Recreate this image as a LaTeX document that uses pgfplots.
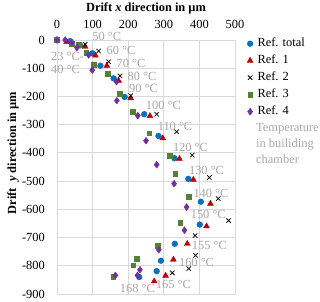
\documentclass[border=0pt]{standalone}
\usepackage{fontspec}
\setmainfont{Liberation Serif}
\usepackage{pgfplots}
\pgfplotsset{compat=1.18}
\definecolor{cTot}{HTML}{0070C0}
\definecolor{cRa}{HTML}{C00000}
\definecolor{cRc}{HTML}{548235}
\definecolor{cRd}{HTML}{7030A0}
\definecolor{cLab}{HTML}{A6A6A6}
\definecolor{cGrid}{HTML}{D9D9D9}
\tikzset{lab/.style={text=cLab, inner sep=0pt}}
\begin{document}
\begin{tikzpicture}[font=\fontsize{12.4bp}{15bp}\selectfont]
\path[use as bounding box] (0,0) rectangle (320bp,302bp);
\begin{axis}[
  at={(57bp,8bp)}, anchor=south west,
  scale only axis, width=178bp, height=254bp,
  xmin=0, xmax=500, ymin=-900, ymax=0,
  xtick={0,100,200,300,400,500},
  xticklabels={0,100,200,300,400,500},
  ytick={-900,-800,-700,-600,-500,-400,-300,-200,-100,0},
  yticklabels={-900,-800,-700,-600,-500,-400,-300,-200,-100,0},
  xticklabel pos=upper,
  grid=major, major grid style={cGrid, line width=0.8bp},
  axis line style={cGrid, line width=0.8bp},
  tick style={draw=none},
  clip=false,
  xticklabel style={anchor=south, inner sep=0pt, yshift=11.5bp},
  yticklabel style={anchor=east, inner sep=0pt, xshift=-12bp},
  xlabel={\textbf{Drift \textit{x} direction in µm}},
  xlabel style={at={(axis description cs:0.5,1.1134)}, anchor=base, inner sep=0pt},
  ylabel={\textbf{Drift \ \textit{y} direction in µm}},
  ylabel style={at={(axis description cs:-0.229,0.555)}, anchor=base, inner sep=0pt},
  legend style={at={(axis description cs:1.0674,1.0100)}, anchor=north west,
    draw=none, fill=none, inner sep=0pt, row sep=5bp, column sep=4.5bp,
    nodes={inner sep=0pt, text height=9bp, text depth=3bp}},
  legend cell align=left,
  legend image code/.code={\draw[#1] plot coordinates {(0bp,0bp)};},
]
\addplot[only marks, mark=*, mark size=2.9bp, mark options={fill=cTot, draw=cTot}] coordinates {
(0,0) (37,-4) (65,-19) (99,-47) (122,-91) (159,-136) (190,-202) (245,-263) (285,-340) (330,-419) (369,-492) (404,-573) (401,-654) (331,-722) (292,-782) (280,-819) (231,-840)};
\addlegendentry{Ref. total}
\addplot[only marks, mark=triangle*, mark size=3.4bp, mark options={fill=cRa, draw=cRa}] coordinates {
(0,0) (27,-7) (79,-24) (108,-55) (140,-91) (173,-144) (207,-206) (261,-269) (297,-348) (344,-421) (383,-495) (431,-580) (420,-660) (366,-722) (327,-778) (305,-835) (273,-855)};
\addlegendentry{Ref. 1}
\addplot[only marks, mark=x, mark size=3.1bp, mark options={draw=black, line width=0.75bp}] coordinates {
(79,-15) (117,-39) (145,-77) (177,-127) (207,-197) (280,-263) (336,-325) (380,-408) (428,-487) (453,-562) (482,-640) (388,-693) (389,-763) (370,-810) (324,-825)};
\addlegendentry{Ref. 2}
\addplot[only marks, mark=square*, mark size=2.4bp, mark options={fill=cRc, draw=cRc}] coordinates {
(0,0) (41,-12) (60,-18) (82,-46) (104,-87) (142,-119) (175,-191) (213,-253) (259,-330) (316,-410) (332,-475) (370,-556) (346,-646) (282,-729) (224,-776) (214,-798) (158,-840)};
\addlegendentry{Ref. 3}
\addplot[only marks, mark=diamond*, mark size=3.4bp, mark options={fill=cRd, draw=cRd}] coordinates {
(0,0) (23,0) (42,-9) (56,-27) (89,-53) (99,-107) (167,-148) (168,-215) (227,-268) (250,-357) (280,-442) (329,-509) (364,-592) (358,-674) (286,-743) (233,-814) (226,-834) (164,-834)};
\addlegendentry{Ref. 4}
\node[lab] at (axis cs:140,14) {50 °C};
\node[lab] at (axis cs:180,-35.4) {60 °C};
\node[lab] at (axis cs:208,-82.6) {70 °C};
\node[lab] at (axis cs:239,-127.6) {80 °C};
\node[lab] at (axis cs:243,-170) {90 °C};
\node[lab, anchor=west] at (axis cs:-16.9,-58.5) {23 °C-};
\node[lab, anchor=west] at (axis cs:-16.9,-104.5) {40 °C};
\node[lab] at (axis cs:299,-232) {100 °C};
\node[lab] at (axis cs:331.5,-306.5) {110 °C};
\node[lab] at (axis cs:375,-381) {120 °C};
\node[lab] at (axis cs:420,-462) {130 °C};
\node[lab] at (axis cs:432.6,-544) {140 °C};
\node[lab] at (axis cs:425,-618) {150 °C};
\node[lab] at (axis cs:428,-729) {155 °C};
\node[lab] at (axis cs:392,-788) {160 °C};
\node[lab] at (axis cs:327,-866) {165 °C};
\node[lab] at (axis cs:226,-880) {168 °C};
\node[lab, anchor=base west] at (axis description cs:1.118,0.641) {Temperature};
\node[lab, anchor=base west] at (axis description cs:1.118,0.578) {in builiding};
\node[lab, anchor=base west] at (axis description cs:1.118,0.515) {chamber};
\end{axis}
\end{tikzpicture}
\end{document}
